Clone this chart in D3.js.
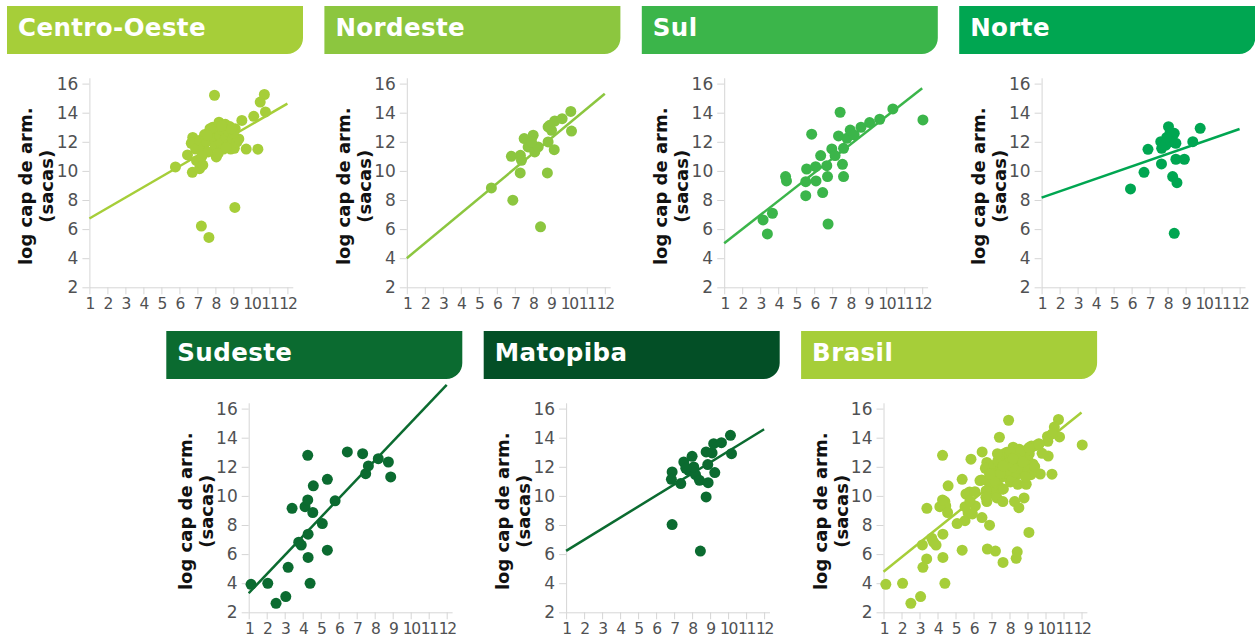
<!DOCTYPE html>
<html>
<head>
<meta charset="utf-8">
<script src="https://cdn.jsdelivr.net/npm/d3@7"></script>
<style>
  body { margin: 0; background: #ffffff; }
  svg { display: block; }
</style>
</head>
<body>
<svg id="chart" width="1255" height="641"></svg>
<script>
// Regions shown, in drawing order (four on the top row, three below)
const regions = ["Centro-Oeste", "Nordeste", "Sul", "Norte", "Sudeste", "Matopiba", "Brasil"];
const headerColors = ["#a6ce39", "#8cc63f", "#3bb54a", "#00a651", "#0b6b30", "#034f26", "#a6ce39"];
const pointColors  = ["#a6ce39", "#8cc63f", "#3bb54a", "#00a651", "#0b6b30", "#0b6b30", "#a6ce39"];

const xTicks = [1, 2, 3, 4, 5, 6, 7, 8, 9, 10, 11, 12];
const yTicks = [2, 4, 6, 8, 10, 12, 14, 16];
const yTitleLines = ["log cap de arm.", "(sacas)"];

// Observations: [x, log storage capacity]
const centroOeste = [
  [7.95, 15.2], [10.72, 15.25], [10.49, 14.73], [10.78, 14.05], [10.13, 13.75], [9.47, 13.47],
  [9.71, 11.5], [10.36, 11.49], [5.78, 10.27], [9.08, 7.49], [7.22, 6.21], [7.64, 5.43],
  [8.05, 10.96], [6.74, 12.3], [6.66, 11.9], [6.45, 11.1], [6.72, 9.9], [7.12, 10.15],
  [6.95, 10.7], [7.3, 10.4], [6.9, 11.5], [7.15, 12.1], [7.35, 11.6], [7.5, 12.0],
  [7.6, 11.3], [7.8, 12.6], [7.85, 13.0], [7.95, 12.2], [8.0, 11.7], [8.1, 12.9],
  [8.2, 13.35], [8.25, 12.4], [8.3, 11.9], [8.4, 12.8], [8.45, 11.5], [8.55, 13.2],
  [8.6, 12.3], [8.7, 11.8], [8.75, 12.7], [8.8, 13.05], [8.85, 11.5], [8.95, 12.2],
  [9.05, 11.55], [9.1, 12.9], [9.2, 12.0], [9.3, 12.2], [7.4, 12.5], [7.25, 11.0],
  [7.7, 12.9], [8.15, 11.2], [8.6, 11.6], [9.0, 12.6], [7.55, 12.45], [8.35, 13.1], [8.9, 12.9]
];
const nordeste = [
  [5.70, 8.83], [6.89, 7.99], [8.43, 6.16], [6.81, 11.0], [7.31, 11.07], [7.37, 10.73],
  [7.30, 9.86], [7.52, 12.22], [8.02, 12.45], [7.74, 11.65], [8.11, 11.3], [8.30, 11.65],
  [7.93, 11.99], [8.85, 13.02], [8.85, 11.99], [9.04, 12.79], [9.22, 13.43], [9.63, 13.59],
  [9.19, 11.46], [8.81, 9.86], [10.11, 14.09], [10.15, 12.74], [8.94, 13.13]
];
const sul = [
  [3.16, 6.63], [3.40, 5.67], [3.68, 7.09], [4.41, 9.61], [4.46, 9.31], [5.53, 8.30],
  [5.53, 9.26], [5.58, 10.13], [5.86, 12.52], [6.10, 9.31], [6.08, 10.29], [6.36, 11.05],
  [6.47, 8.51], [6.74, 9.61], [6.70, 10.36], [6.77, 6.35], [6.98, 11.51], [7.16, 11.05],
  [7.35, 12.40], [7.44, 14.03], [7.57, 10.45], [7.63, 9.61], [7.63, 11.55], [7.82, 12.24],
  [8.00, 12.81], [8.22, 12.47], [8.60, 13.0], [9.08, 13.32], [9.64, 13.55], [10.37, 14.26],
  [12.04, 13.5]
];
const norte = [
  [5.94, 8.76], [6.69, 9.90], [6.91, 11.48], [7.62, 12.01], [7.67, 11.55], [7.66, 10.48],
  [7.90, 11.78], [8.05, 13.04], [8.13, 12.58], [8.37, 12.58], [8.46, 11.9], [8.46, 10.8],
  [8.28, 9.61], [8.52, 9.19], [8.37, 5.71], [8.93, 10.80], [9.40, 12.01], [9.81, 12.93],
  [8.18, 12.01], [7.95, 12.3]
];
const sudeste = [
  [1.13, 3.92], [2.06, 3.99], [2.52, 2.62], [3.06, 3.08], [3.19, 5.09], [3.41, 9.15],
  [3.78, 6.82], [3.92, 6.62], [4.13, 9.26], [4.28, 9.72], [4.28, 12.79], [4.30, 7.37],
  [4.30, 5.77], [4.41, 3.99], [4.56, 8.86], [4.59, 10.69], [5.09, 8.10], [5.37, 11.14],
  [5.37, 6.27], [5.80, 9.66], [6.48, 13.02], [7.33, 12.9], [7.50, 11.53], [7.65, 12.06],
  [8.20, 12.56], [8.76, 12.33], [8.89, 11.30]
];
const matopiba = [
  [6.89, 8.03], [8.46, 6.21], [8.78, 9.93], [6.89, 11.65], [6.85, 11.14], [7.37, 10.85],
  [7.54, 12.33], [8.0, 12.72], [7.81, 11.76], [8.19, 11.46], [8.41, 11.07], [8.89, 10.91],
  [8.87, 12.15], [8.78, 13.02], [9.11, 12.95], [9.20, 13.59], [9.63, 13.66], [9.26, 11.6],
  [10.13, 14.16], [10.19, 12.90], [8.09, 11.99], [7.65, 11.9]
];
// The national panel pools the five macro-regions
const brasil = [].concat(centroOeste, nordeste, sul, norte, sudeste);

const panelData = [centroOeste, nordeste, sul, norte, sudeste, matopiba, brasil];

// Fitted line of each panel, evaluated at x = 1 and x = 12
const trendAt1  = [6.73, 4.0, 5.02, 8.16, 3.31, 6.22, 4.79];
const trendAt12 = [14.62, 15.3, 15.68, 12.88, 17.63, 14.58, 15.73];
const trendX = [1, 12];

// ---- layout ----
const svg = d3.select("#chart");
const step = 317.4;
const plotW = 18 * 11.3;            // x from 1 to 12.3
const plotH = 14.55 * 14.4;         // y from 2 to 16.4
const origins = [
  [89.4, 287.3], [89.4 + step, 287.3], [89.4 + 2 * step, 287.3], [89.4 + 3 * step, 287.3],
  [248.7, 612.3], [248.7 + step, 612.3], [248.7 + 2 * step, 612.3]
];

const x = d3.scaleLinear().domain([1, 12.3]).range([0, plotW]);
const y = d3.scaleLinear().domain([2, 16.4]).range([plotH, 0]);

const axisGrey = "#d6d6d6";
const labelGrey = "#505153";
const headerW = 296, headerH = 48, headerR = 16;

regions.forEach((name, i) => {
  const [ox, oy] = origins[i];
  const g = svg.append("g").attr("transform", `translate(${ox},${oy - plotH})`);

  // title banner with a rounded lower-right corner
  const hx = -82.4, hy = plotH - 281.3;
  g.append("path")
    .attr("d", `M${hx},${hy} H${hx + headerW} V${hy + headerH - headerR} ` +
               `A${headerR},${headerR} 0 0 1 ${hx + headerW - headerR},${hy + headerH} H${hx} Z`)
    .attr("fill", headerColors[i]);
  g.append("text")
    .attr("x", hx + 11).attr("y", hy + 30)
    .attr("fill", "#ffffff")
    .style("font-family", "'DejaVu Sans', sans-serif")
    .style("font-weight", "bold")
    .style("font-size", "24.5px")
    .style("letter-spacing", "0.4px")
    .text(name);

  // axes
  const gx = g.append("g").attr("transform", `translate(0,${plotH})`)
    .call(d3.axisBottom(x).tickValues(xTicks).tickSize(7).tickSizeOuter(0).tickPadding(4));
  const gy = g.append("g")
    .call(d3.axisLeft(y).tickValues(yTicks).tickSize(7).tickSizeOuter(0).tickPadding(4));
  [gx, gy].forEach(a => {
    a.select(".domain").attr("stroke", axisGrey).attr("stroke-width", 1);
    a.selectAll(".tick line").attr("stroke", axisGrey).attr("stroke-width", 1);
    a.selectAll(".tick text")
      .attr("fill", labelGrey)
      .style("font-family", "'DejaVu Sans', sans-serif");
  });
  gx.selectAll(".tick text").style("font-size", "15.5px").style("letter-spacing", "-1.3px");
  gy.selectAll(".tick text").style("font-size", "17px");

  // y-axis title, two rotated lines
  const midY = plotH - 101;
  yTitleLines.forEach((t, k) => {
    g.append("text")
      .attr("transform", `translate(${k === 0 ? -57 : -36},${midY}) rotate(-90)`)
      .attr("text-anchor", "middle")
      .attr("fill", "#111111")
      .style("font-family", "'DejaVu Sans', sans-serif")
      .style("font-weight", "bold")
      .style("font-size", "18px")
      .text(t);
  });

  // fitted line
  const trend = trendX.map((tx, k) => [tx, k === 0 ? trendAt1[i] : trendAt12[i]]);
  g.append("path")
    .datum(trend)
    .attr("d", d3.line().x(d => x(d[0])).y(d => y(d[1])))
    .attr("stroke", pointColors[i])
    .attr("stroke-width", 2.5)
    .attr("fill", "none");

  // observations
  g.append("g").selectAll("circle")
    .data(panelData[i])
    .join("circle")
    .attr("cx", d => x(d[0]))
    .attr("cy", d => y(d[1]))
    .attr("r", 5.5)
    .attr("fill", pointColors[i]);
});
</script>
</body>
</html>
